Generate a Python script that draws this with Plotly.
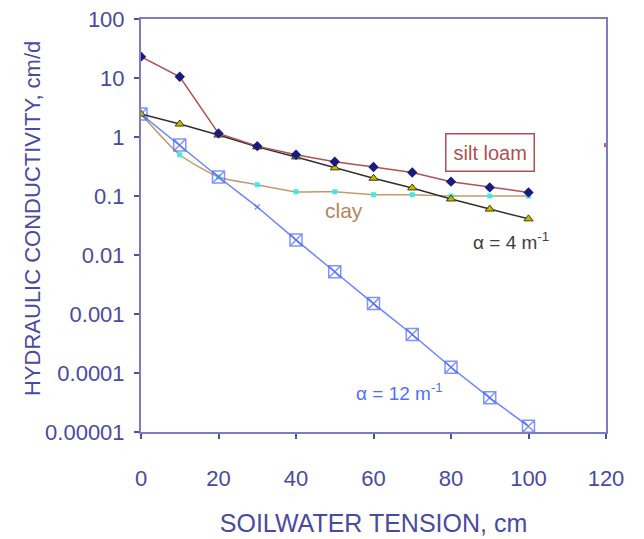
import math
import plotly.graph_objects as go

tension = [0, 10, 20, 30, 40, 50, 60, 70, 80, 90, 100]

silt_loam = [23, 10.5, 1.15, 0.7, 0.5, 0.38, 0.31, 0.25, 0.175, 0.14, 0.115]
alpha4 = [2.45, 1.66, 1.08, 0.68, 0.46, 0.3, 0.2, 0.137, 0.089, 0.06, 0.041]
clay = [2.45, 0.5, 0.21, 0.155, 0.118, 0.118, 0.105, 0.105, 0.1, 0.1, 0.1]
alpha12 = [2.45, 0.73, 0.21, 0.065, 0.018, 0.0052, 0.0015, 0.00045, 0.000125, 0.000038, 0.0000125]

stray_x = [120]
stray_y = [0.73]

y_tickvals = [100, 10, 1, 0.1, 0.01, 0.001, 0.0001, 0.00001]
y_ticktext = ["100", "10", "1", "0.1", "0.01", "0.001", "0.0001", "0.00001"]
x_tickvals = [0, 20, 40, 60, 80, 100, 120]

AX = "#4a4aa0"
FONT = "Liberation Sans, Arial, sans-serif"

fig = go.Figure()

fig.add_trace(go.Scatter(
    x=tension, y=clay, mode="lines+markers", line=dict(color="#c49a6c", width=1.5, shape="spline", smoothing=0.6),
    marker=dict(symbol="square", size=5, color="#40e8e8"), showlegend=False))

a12_sym = ["square-x-open"] * len(tension)
a12_sym[3] = "x-thin-open"
a12_size = [12] * len(tension)
a12_size[3] = 5
fig.add_trace(go.Scatter(
    x=tension, y=alpha12, mode="lines+markers", line=dict(color="#6a84ff", width=1.5),
    marker=dict(symbol=a12_sym, size=a12_size, color="#4a66ff", line=dict(width=1.5, color="#4a66ff")),
    showlegend=False))

fig.add_trace(go.Scatter(
    x=tension, y=alpha4, mode="lines+markers", line=dict(color="#303030", width=1.5),
    marker=dict(symbol="triangle-up", size=8, color="#c8b800", line=dict(width=1, color="#404000")),
    showlegend=False))

fig.add_trace(go.Scatter(
    x=tension, y=silt_loam, mode="lines+markers", line=dict(color="#b05050", width=1.5),
    marker=dict(symbol="diamond", size=8, color="#1a1a80"), showlegend=False))

fig.add_trace(go.Scatter(
    x=stray_x, y=stray_y, mode="markers", marker=dict(symbol="square", size=4, color="#c06060"),
    showlegend=False, cliponaxis=False))

fig.update_layout(
    width=644, height=539,
    margin=dict(l=141, r=38, t=19, b=107, autoexpand=False),
    paper_bgcolor="white", plot_bgcolor="white",
    font=dict(family=FONT, color=AX, size=22),
    xaxis=dict(range=[0, 120], tickvals=x_tickvals, showgrid=False, zeroline=False,
               showline=True, linecolor="#7c7cc4", linewidth=2, mirror=True,
               ticks="outside", ticklen=5, tickcolor="#5050a0", tickwidth=2,
               tickfont=dict(size=22, color=AX), ticklabelstandoff=21, automargin=False,
               title=dict(text="SOILWATER TENSION, cm", font=dict(size=25, color=AX), standoff=24)),
    yaxis=dict(type="log", range=[-5, 2], tickvals=y_tickvals, ticktext=y_ticktext,
               showgrid=False, zeroline=False, automargin=False,
               showline=True, linecolor="#7c7cc4", linewidth=2, mirror=True,
               ticks="outside", ticklen=5, tickcolor="#5050a0", tickwidth=2,
               tickfont=dict(size=22, color=AX), ticklabelstandoff=5),
)

fig.add_annotation(x=-0.2344, y=0.5157, xref="paper", yref="paper", text="HYDRAULIC CONDUCTIVITY, cm/d",
                   textangle=-90, showarrow=False, xanchor="center", yanchor="middle",
                   font=dict(size=22, color=AX, family=FONT))
fig.add_annotation(x=90, y=math.log10(0.55), xref="x", yref="y", text="silt loam", showarrow=False,
                   font=dict(size=20, color="#b05050", family=FONT),
                   bordercolor="#b05050", borderwidth=1.5, borderpad=7, bgcolor="white")
fig.add_annotation(x=52.5, y=math.log10(0.056), xref="x", yref="y", text="clay", showarrow=False,
                   font=dict(size=21, color="#b08860", family=FONT))
fig.add_annotation(x=95.5, y=math.log10(0.0175), xref="x", yref="y", text="α = 4 m<sup>-1</sup>", showarrow=False,
                   font=dict(size=19, color="#404040", family=FONT))
fig.add_annotation(x=66.6, y=math.log10(0.000048), xref="x", yref="y", text="α = 12 m<sup>-1</sup>", showarrow=False,
                   font=dict(size=19, color="#5070ff", family=FONT))

fig.write_html("out.html")
